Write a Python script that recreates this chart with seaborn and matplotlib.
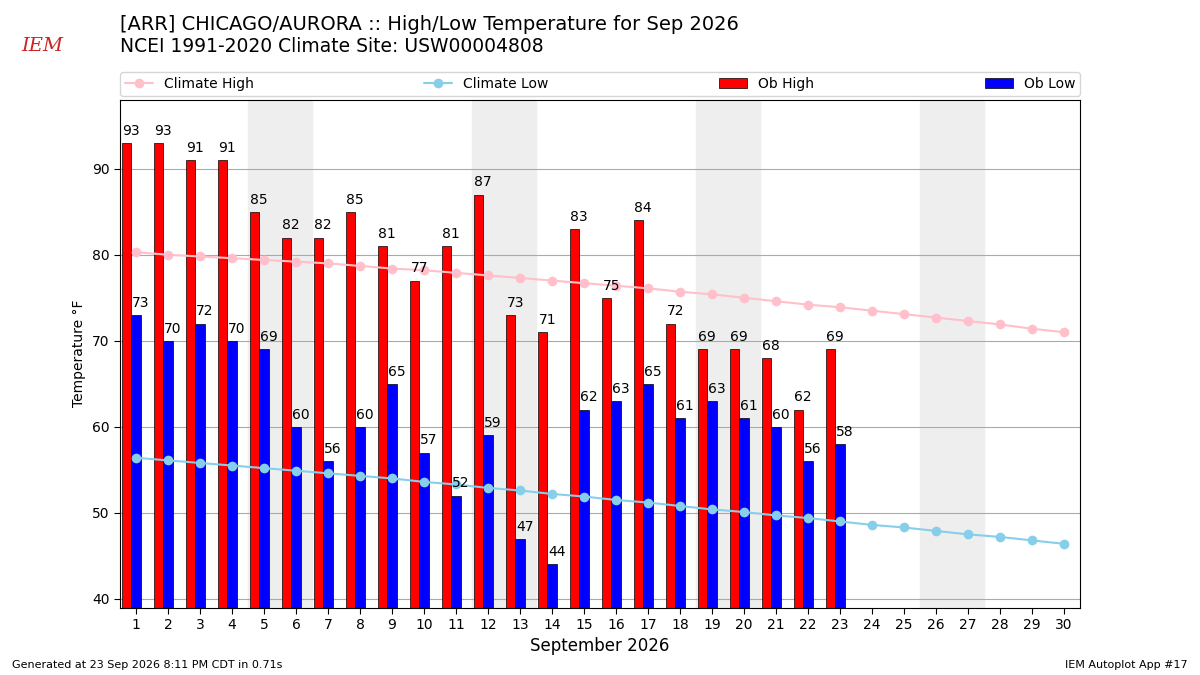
import matplotlib
matplotlib.use("Agg")
import matplotlib.pyplot as plt
import seaborn as sns
import numpy as np

days = list(range(1, 31))
obs_days = list(range(1, 24))
ob_high = [93,93,91,91,85,82,82,85,81,77,81,87,73,71,83,75,84,72,69,69,68,62,69]
ob_low = [73,70,72,70,69,60,56,60,65,57,52,59,47,44,62,63,65,61,63,61,60,56,58]
clim_high = [80.3,80.0,79.8,79.6,79.4,79.2,79.0,78.7,78.4,78.2,77.9,77.6,77.3,77.0,76.7,
             76.4,76.1,75.7,75.4,75.0,74.6,74.2,73.9,73.5,73.1,72.7,72.3,71.9,71.4,71.0]
clim_low = [56.4,56.1,55.8,55.5,55.2,54.9,54.6,54.3,54.0,53.6,53.3,52.9,52.6,52.2,51.9,
            51.5,51.2,50.8,50.4,50.1,49.7,49.4,49.0,48.6,48.3,47.9,47.5,47.2,46.8,46.4]
weekends = [5, 12, 19, 26]

sns.set_style("white")
plt.rcParams.update({"text.color": "black", "axes.labelcolor": "black",
                     "xtick.color": "black", "ytick.color": "black"})
fig = plt.figure(figsize=(12, 6.75), dpi=100)
ax = fig.add_axes([0.1, 0.1, 0.8, 0.752])

for w in weekends:
    ax.axvspan(w - 0.5, w + 1.5, color="#eeeeee", zorder=0)
ax.grid(axis="y", color="#aaaaaa", lw=0.8, zorder=1)
ax.set_axisbelow(True)

x = np.array(obs_days)
bw = 0.3
ax.bar(x - bw, ob_high, width=bw, align="center", color="red", edgecolor="black", lw=0.5, label="Ob High", zorder=2)
ax.bar(x, ob_low, width=bw, align="center", color="blue", edgecolor="black", lw=0.5, label="Ob Low", zorder=2)
for xi, v in zip(x - bw / 2, ob_high):
    ax.text(xi, v + 0.6, str(v), ha="center", va="bottom", fontsize=10, zorder=5)
for xi, v in zip(x + bw / 2, ob_low):
    ax.text(xi, v + 0.6, str(v), ha="center", va="bottom", fontsize=10, zorder=5)

sns.lineplot(x=days, y=clim_high, ax=ax, color="pink", marker="o", markersize=7,
             markeredgewidth=0, lw=1.5, label="Climate High", zorder=3)
sns.lineplot(x=days, y=clim_low, ax=ax, color="skyblue", marker="o", markersize=7,
             markeredgewidth=0, lw=1.5, label="Climate Low", zorder=3)

ax.set_xlim(0.5, 30.5)
ax.set_ylim(39, 98)
ax.set_xticks(days)
ax.set_yticks([40, 50, 60, 70, 80, 90])
ax.tick_params(labelsize=10, length=4, left=True, bottom=True)
ax.set_xlabel("September 2026", fontsize=12)
ax.set_ylabel("Temperature °F", fontsize=10)
for s in ax.spines.values():
    s.set_color("black")

h, l = ax.get_legend_handles_labels()
ax.get_legend().remove()
order = ["Climate High", "Climate Low", "Ob High", "Ob Low"]
hd = dict(zip(l, h))
fig.legend([hd[o] for o in order], order, loc="lower left", ncol=4, mode="expand",
           bbox_to_anchor=(0.1, 0.858, 0.8, 0.04), fontsize=10, frameon=True,
           borderaxespad=0, borderpad=0.35)

fig.text(0.1, 0.95, "[ARR] CHICAGO/AURORA :: High/Low Temperature for Sep 2026", fontsize=14, va="bottom")
fig.text(0.1, 0.917, "NCEI 1991-2020 Climate Site: USW00004808", fontsize=13.5, va="bottom")
fig.text(0.018, 0.925, "IEM", fontsize=14, color="#cc2222", style="italic", family="serif")
fig.text(0.01, 0.01, "Generated at 23 Sep 2026 8:11 PM CDT in 0.71s", fontsize=8)
fig.text(0.99, 0.01, "IEM Autoplot App #17", fontsize=8, ha="right")

fig.savefig("out.png", dpi=100)
